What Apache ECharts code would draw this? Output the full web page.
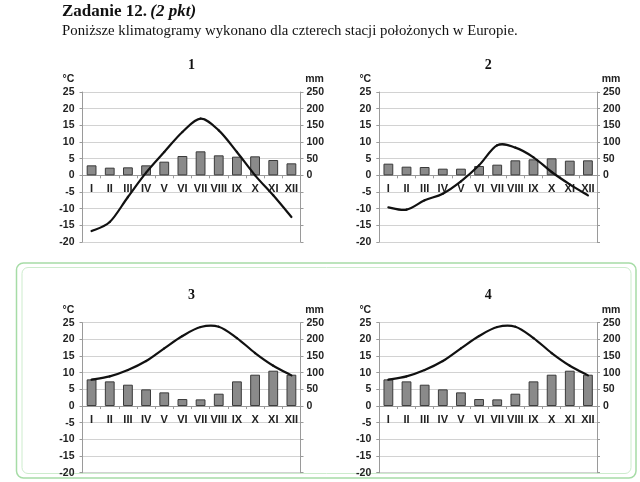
<!DOCTYPE html>
<html><head><meta charset="utf-8">
<script src="https://cdn.jsdelivr.net/npm/echarts@6/dist/echarts.min.js"></script>
<style>html,body{margin:0;padding:0;background:#fff}#c{width:640px;height:482px}</style>
</head><body><div id="c"></div>
<script>
const months = ['I','II','III','IV','V','VI','VII','VIII','IX','X','XI','XII'];
const chartTitles = ['1','2','3','4'];
const headTitle = 'Zadanie 12.';
const headPts = '(2 pkt)';
const headText = 'Poniższe klimatogramy wykonano dla czterech stacji położonych w Europie.';
// temperature (°C), left axis
const temp1 = [-16.7,-14.0,-6.5,0.8,7.0,13.0,17.0,13.5,7.0,0.0,-6.0,-12.5];
const temp2 = [-9.6,-10.3,-7.5,-5.5,-1.8,3.0,9.0,8.3,5.4,1.0,-2.7,-6.0];
const temp3 = [7.9,8.9,10.8,13.5,17.3,21.0,23.7,23.8,20.4,15.9,12.1,9.2];
const temp4 = [7.9,8.9,10.8,13.5,17.3,21.0,23.7,23.8,20.4,15.9,12.1,9.2];
// precipitation (mm), right axis
const prec1 = [30,23,24,30,41,58,72,60,56,57,46,36];
const prec2 = [35,26,25,20,20,28,32,45,48,51,44,45];
const prec3 = [80,74,64,50,41,21,20,37,74,94,106,94];
const prec4 = [80,74,64,50,41,21,20,37,74,94,106,94];
const tempMin = -20, tempMax = 25, tempStep = 5;
const precMin = -200, precMax = 250, precStep = 50;

const temps = [temp1,temp2,temp3,temp4];
const precs = [prec1,prec2,prec3,prec4];
const grids = [
  {left:82.5, top:92, width:218, height:150},
  {left:379.3, top:92, width:217.7, height:150},
  {left:82.5, top:322.7, width:218, height:150},
  {left:379.3, top:322.7, width:217.7, height:150}
];
const lab = {fontFamily:'Liberation Sans, Arial, sans-serif', fontWeight:'bold', fontSize:10.5, color:'#222'};

function renderSmooth(params, api) {
  const i = params.dataIndexInside, n = params.dataInsideLength;
  if (i >= n - 1) return null;
  const P = k => { k = Math.max(0, Math.min(n - 1, k)); return api.coord([api.value(0, k), api.value(1, k)]); };
  const p0 = P(i - 1), p1 = P(i), p2 = P(i + 1), p3 = P(i + 2);
  const t = 1 / 6;
  return {type:'bezierCurve', shape:{
      x1:p1[0], y1:p1[1], x2:p2[0], y2:p2[1],
      cpx1:p1[0] + (p2[0] - p0[0]) * t, cpy1:p1[1] + (p2[1] - p0[1]) * t,
      cpx2:p2[0] - (p3[0] - p1[0]) * t, cpy2:p2[1] - (p3[1] - p1[1]) * t},
    style:{stroke:'#111', lineWidth:2.2, fill:'none', lineCap:'round'}};
}

const xAxes=[], yAxes=[], series=[], graphics=[];
graphics.push({type:'rect', z:-10, shape:{x:16.5,y:263,width:619.5,height:215,r:7}, style:{fill:'none', stroke:'#a6dca6', lineWidth:1.5}});
graphics.push({type:'rect', z:-10, shape:{x:22,y:267.5,width:609,height:206,r:6}, style:{fill:'none', stroke:'#cdeccd', lineWidth:1}});
graphics.push({type:'text', x:62, y:12, style:{text:'{a|'+headTitle+'} {b|'+headPts+'}', verticalAlign:'middle', rich:{
  a:{fontFamily:'Liberation Serif, Times New Roman, serif', fontWeight:'bold', fontSize:17, fill:'#111'},
  b:{fontFamily:'Liberation Serif, Times New Roman, serif', fontWeight:'bold', fontStyle:'italic', fontSize:17, fill:'#111'}}}});
graphics.push({type:'text', x:62, y:31.5, style:{text:headText, verticalAlign:'middle', font:'14.8px "Liberation Serif", "Times New Roman", serif', fill:'#111'}});
grids.forEach((g,i)=>{
  graphics.push({type:'text', x:g.left+g.width/2, y:g.top-27, style:{text:chartTitles[i], align:'center', verticalAlign:'middle', font:'bold 14px "Liberation Serif", "Times New Roman", serif', fill:'#111'}});
  graphics.push({type:'text', x:g.left-14, y:g.top-13, style:{text:'°C', align:'center', verticalAlign:'middle', font:'bold 10.5px "Liberation Sans", Arial, sans-serif', fill:'#222'}});
  graphics.push({type:'text', x:g.left+g.width+14, y:g.top-13, style:{text:'mm', align:'center', verticalAlign:'middle', font:'bold 10.5px "Liberation Sans", Arial, sans-serif', fill:'#222'}});
  const zeroOffset = -(0 - tempMin) / (tempMax - tempMin) * g.height;
  xAxes.push({type:'category', gridIndex:i, data:months, boundaryGap:true, position:'bottom', offset:zeroOffset,
    axisLine:{onZero:false, lineStyle:{color:'#9a9a9a', width:1}},
    axisTick:{show:true, length:3, lineStyle:{color:'#9a9a9a'}},
    axisLabel:Object.assign({margin:8, interval:0}, lab, {fontSize:11}),
    splitLine:{show:false}});
  yAxes.push({type:'value', gridIndex:i, position:'left', min:tempMin, max:tempMax, interval:tempStep,
    axisLine:{show:true, lineStyle:{color:'#9a9a9a'}},
    axisTick:{show:true, length:3, lineStyle:{color:'#9a9a9a'}},
    axisLabel:Object.assign({margin:8}, lab),
    splitLine:{show:true, lineStyle:{color:'#d2d2d2', width:1}}});
  yAxes.push({type:'value', gridIndex:i, position:'right', min:precMin, max:precMax, interval:precStep,
    axisLine:{show:true, lineStyle:{color:'#9a9a9a'}},
    axisTick:{show:true, length:3, lineStyle:{color:'#9a9a9a'}},
    axisLabel:Object.assign({margin:6, formatter:v=> v>=0 ? String(v) : ''}, lab),
    splitLine:{show:false}});
  series.push({type:'bar', xAxisIndex:i, yAxisIndex:2*i+1, data:precs[i], barWidth:'54%',
    itemStyle:{color:'#8a8a8a', borderColor:'#3a3a3a', borderWidth:1}, silent:true});
  series.push({type:'custom', coordinateSystem:'cartesian2d', xAxisIndex:i, yAxisIndex:2*i,
    data:temps[i].map((v,k)=>[k, v]), renderItem:renderSmooth, z:5, silent:true, clip:false});
});
const chart = echarts.init(document.getElementById('c'), null, {renderer:'canvas'});
chart.setOption({animation:false, backgroundColor:'#fff', grid:grids, xAxis:xAxes, yAxis:yAxes, series:series, graphic:graphics});
</script></body></html>
